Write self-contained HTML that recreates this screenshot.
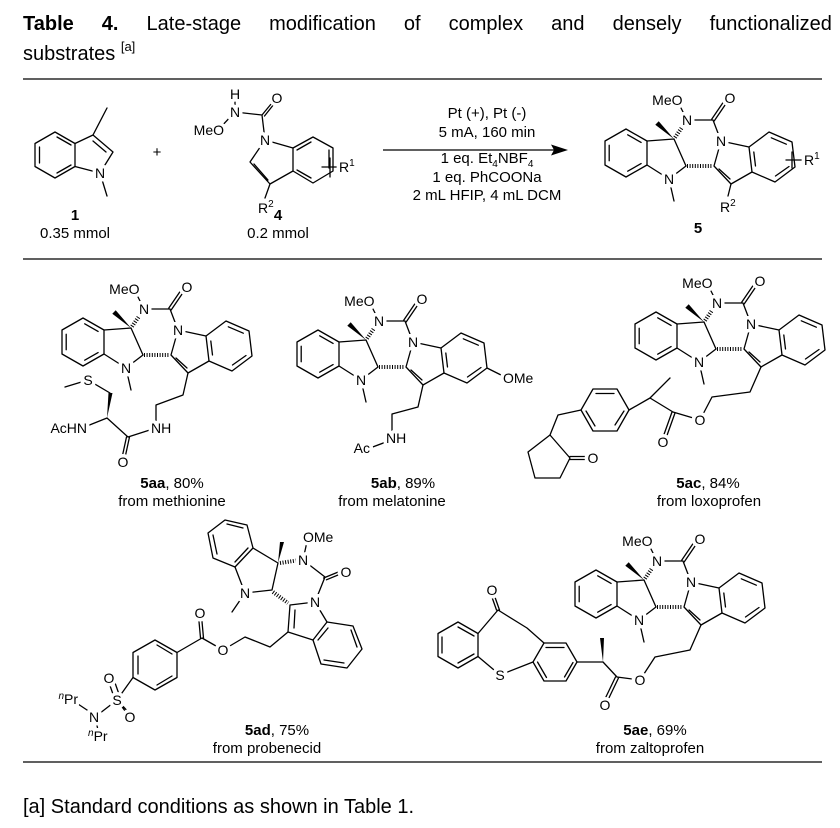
<!DOCTYPE html>
<html><head><meta charset="utf-8"><style>
html,body{margin:0;padding:0;background:#fff}
svg{display:block}
text{font-family:"Liberation Sans",Arial,sans-serif}
.b{stroke:#000;stroke-width:1.3;fill:none;stroke-linecap:round;stroke-linejoin:round}
.a{font-size:14px}
.c{font-size:15px}
.h{stroke:#000;stroke-width:4;stroke-dasharray:1 1.6;fill:none}
</style></head><body>
<svg width="840" height="828" viewBox="0 0 840 828" xmlns="http://www.w3.org/2000/svg" fill="#000">
<defs>
<g id="coreB">
<path class="b" d="M0 0L-27 2M-27 26L-5 40M-5 40L12 27M12 27L0 0M-5 40L0 62M13 -19L3 -39M13 -19L39 -19M39 -19L47 2M47 2L40 27M40 27L57 45M57 45L78 33M75 8L47 2"/>
<polygon class="b" points="-48,-10 -27,2 -27,26 -48,38 -69,26 -69,2"/>
<path class="b" d="M-46.3 -4.2L-32.9 3.4M-32.9 24.6L-46.3 32.2M-64.8 21.7L-64.8 6.3"/>
<polygon class="b" points="75,8 95,-7 118,3 121,28 101,43 78,33"/>
<path class="b" d="M97.3 -1.2L112.3 5.2M115 27.5L101.5 37M81.5 27L79.8 13M45 30L56 40M37.75 -19.84L52.75 -41.84M40.25 -18.16L55.25 -40.16"/>
<polygon points="0,0 -15.3,-17.8 -18.7,-14.2"/>
<path class="h" d="M1 -1.5L11 -16M13 27L38 27"/>
</g>
<g id="coreL">
<text class="a" x="13" y="-14" text-anchor="middle">N</text>
<text class="a" x="8.5" y="-34" text-anchor="end">MeO</text>
<text class="a" x="56" y="-36" text-anchor="middle">O</text>
<text class="a" x="47" y="7" text-anchor="middle">N</text>
<text class="a" x="-5" y="45" text-anchor="middle">N</text>
</g>
<g id="allL">
<use href="#coreL" transform="translate(674,139)"/>
<use href="#coreL" transform="translate(131,328)"/>
<use href="#coreL" transform="translate(366,340)"/>
<use href="#coreL" transform="translate(704,322)"/>
<use href="#coreL" transform="translate(644,580)"/>
<text class="a" x="100" y="178" text-anchor="middle">N</text>
<text class="a" x="265" y="145" text-anchor="middle">N</text>
<text class="a" x="235" y="117" text-anchor="middle">N</text>
<text class="a" x="235" y="99" text-anchor="middle">H</text>
<text class="a" x="277" y="103" text-anchor="middle">O</text>
<text class="a" x="224" y="135" text-anchor="end">MeO</text>
<text class="a" x="258" y="213">R<tspan font-size="10" dy="-6">2</tspan></text>
<text class="a" x="339" y="172">R<tspan font-size="10" dy="-6">1</tspan></text>
<text class="a" x="720" y="212">R<tspan font-size="10" dy="-6">2</tspan></text>
<text class="a" x="804" y="165">R<tspan font-size="10" dy="-6">1</tspan></text>
<text class="a" x="151" y="433">NH</text>
<text class="a" x="123" y="467" text-anchor="middle">O</text>
<text class="a" x="87" y="433" text-anchor="end">AcHN</text>
<text class="a" x="88" y="385" text-anchor="middle">S</text>
<text class="a" x="386" y="443">NH</text>
<text class="a" x="370" y="453" text-anchor="end">Ac</text>
<text class="a" x="503" y="383">OMe</text>
<text class="a" x="700" y="425" text-anchor="middle">O</text>
<text class="a" x="663" y="447" text-anchor="middle">O</text>
<text class="a" x="593" y="463" text-anchor="middle">O</text>
<text class="a" x="303" y="565" text-anchor="middle">N</text>
<text class="a" x="303" y="542">OMe</text>
<text class="a" x="346" y="577" text-anchor="middle">O</text>
<text class="a" x="315" y="607" text-anchor="middle">N</text>
<text class="a" x="245" y="598" text-anchor="middle">N</text>
<text class="a" x="223" y="655" text-anchor="middle">O</text>
<text class="a" x="200" y="618" text-anchor="middle">O</text>
<text class="a" x="117" y="705" text-anchor="middle">S</text>
<text class="a" x="109" y="683" text-anchor="middle">O</text>
<text class="a" x="130" y="722" text-anchor="middle">O</text>
<text class="a" x="94" y="722" text-anchor="middle">N</text>
<text class="a" x="78" y="704" text-anchor="end"><tspan font-size="10" font-style="italic" dy="-5">n</tspan><tspan dy="5">Pr</tspan></text>
<text class="a" x="88" y="741"><tspan font-size="10" font-style="italic" dy="-5">n</tspan><tspan dy="5">Pr</tspan></text>
<text class="a" x="640" y="685" text-anchor="middle">O</text>
<text class="a" x="605" y="710" text-anchor="middle">O</text>
<text class="a" x="492" y="595" text-anchor="middle">O</text>
<text class="a" x="500" y="680" text-anchor="middle">S</text>
</g>
</defs>

<text x="23" y="30" font-size="20" word-spacing="22.5"><tspan font-weight="bold">Table 4.</tspan> Late-stage modification of complex and densely functionalized</text>
<text x="23" y="60" font-size="20">substrates <tspan font-size="13" dy="-9">[a]</tspan></text>
<path d="M23 79H822M23 259H822M23 762H822" stroke="#000" stroke-width="1.3"/>

<polygon class="b" points="55,132 75,143.5 75,166.5 55,178 35,166.5 35,143.5"/>
<path class="b" d="M57 137L71 145M71 165L57 173M39.5 163L39.5 147M75 143.5L93 135L113 152L100 173L75 166.5M93 135L107 108M100 173L107 196M93 141L106 152"/>
<text class="c" x="75" y="220" text-anchor="middle" font-weight="bold">1</text>
<text class="c" x="75" y="238" text-anchor="middle">0.35 mmol</text>
<text x="157" y="157" font-size="15" text-anchor="middle">+</text>

<polygon class="b" points="293,148 313,137 333,148 333,171 313,183 293,171"/>
<path class="b" d="M297 150L311 142M329 150L329 168M311 178L297 170M293 148L265 140L250 162L270 184L293 171M254 164L268 180M265 140L262 115L235 112M235 112L218 130M262 115L276 98M264.5 116L278 99M235 112L235 100M270 184L265 198M330 158L330 177M322 167L338 167"/>
<text class="c" x="278" y="220" text-anchor="middle" font-weight="bold">4</text>
<text class="c" x="278" y="238" text-anchor="middle">0.2 mmol</text>

<line x1="383" y1="150" x2="560" y2="150" stroke="#000" stroke-width="1.3"/>
<polygon points="568,150 551,144.5 554,150 551,155.5"/>
<g class="c" text-anchor="middle">
<text x="487" y="118">Pt (+), Pt (-)</text>
<text x="487" y="137">5 mA, 160 min</text>
<text x="487" y="163">1 eq. Et<tspan font-size="10" dy="4">4</tspan><tspan dy="-4">NBF</tspan><tspan font-size="10" dy="4">4</tspan></text>
<text x="487" y="182">1 eq. PhCOONa</text>
<text x="487" y="200">2 mL HFIP, 4 mL DCM</text>
</g>

<use href="#coreB" transform="translate(674,139)"/>
<path class="b" d="M731 184L728 196M792 152L792 168M786 160L802 160"/>
<text class="c" x="698" y="233" text-anchor="middle" font-weight="bold">5</text>

<use href="#coreB" transform="translate(131,328)"/>
<path class="b" d="M188 373L183 395L156 405L156 428M156 428L128 437M126.5 437L121.5 460M129.5 437L124.5 460M128 437L107 418M107 418L82 428M88 380L65 387M110 393L88 380"/>
<polygon points="107,418 108.5,393 112.5,393"/>
<text class="c" x="172" y="488" text-anchor="middle"><tspan font-weight="bold">5aa</tspan>, 80%</text>
<text class="c" x="172" y="506" text-anchor="middle">from methionine</text>

<use href="#coreB" transform="translate(366,340)"/>
<path class="b" d="M423 385L418 407L392 414L392 436M386 442L370 448M487 368L503 376"/>
<text class="c" x="403" y="488" text-anchor="middle"><tspan font-weight="bold">5ab</tspan>, 89%</text>
<text class="c" x="392" y="506" text-anchor="middle">from melatonine</text>

<use href="#coreB" transform="translate(704,322)"/>
<path class="b" d="M761 367L750 392L712 397L700 420M700 420L673 412M673 412L650 398M650 398L670 378M650 398L629 410M672 412L662 440M675 413L665 441M581 410L558 415L550 435"/>
<polygon class="b" points="629,410 617,431 593,431 581,410 593,389 617,389"/>
<path class="b" d="M596 393.5L614 393.5M624 411L615 425M595 426L586 411"/>
<polygon class="b" points="550,435 570,458 560,478 535,478 528,452"/>
<path class="b" d="M570 456.5L588 456.5M570 459.5L588 459.5"/>
<text class="c" x="708" y="488" text-anchor="middle"><tspan font-weight="bold">5ac</tspan>, 84%</text>
<text class="c" x="709" y="506" text-anchor="middle">from loxoprofen</text>

<polygon class="b" points="253,548 247,525 225,520 208,533 213,558 235,567"/>
<path class="b" d="M243 528L227 524M213 535L217 554M235 562L248 548M278 563L253 548M235 567L245 593L272 590L278 563M245 593L232 612M303 560L308 537M303 560L325 577L315 602M315 602L290 605L288 632L313 640M327 622L315 602M295 610L294 628M323.6 578L341.6 570.6M326.4 579.8L344.4 572.4"/>
<polygon class="b" points="327,622 353,626 362,649 347,668 321,664 313,640"/>
<path class="b" d="M351 630L357 647M344 663L324 660M318 640L328 628"/>
<polygon points="278,563 280,542 284,542"/>
<path class="h" d="M280 563L300 560M273 592L288 603"/>
<path class="b" d="M288 632L270 647L245 637L223 650M223 650L202 638M202 638L177 652.5M200.5 638L198.5 616M203.5 638L201.5 616M133 677.5L117 700M114 697L108 680M120 697L114 680M117 700L128 715M120 703L131 715M117 700L95 717M78 704L93 714M95 717L98 730"/>
<polygon class="b" points="155,640 177,652.5 177,677.5 155,690 133,677.5 133,652.5"/>
<path class="b" d="M157 645L172 654M172 676L157 685M138 674L138 656"/>
<text class="c" x="277" y="735" text-anchor="middle"><tspan font-weight="bold">5ad</tspan>, 75%</text>
<text class="c" x="267" y="753" text-anchor="middle">from probenecid</text>

<use href="#coreB" transform="translate(644,580)"/>
<path class="b" d="M701 625L690 650L655 657L640 680M640 680L617 677M617 677L603 662M603 662L577 662M615.5 677L603.5 702M618.5 678L606.5 703M544 643L527 628L498 610L478 633.5M496.5 610L490.5 593M499.5 610L493.5 593M478 656.5L500 675L533 662"/>
<polygon points="603,662 600,638 604,638"/>
<polygon class="b" points="577,662 566,643 544,643 533,662 544,681 566,681"/>
<path class="b" d="M564 647.5L546 647.5M537.5 662L546.5 677.5M564.5 677L573 662.5"/>
<polygon class="b" points="458,622 478,633.5 478,656.5 458,668 438,656.5 438,633.5"/>
<path class="b" d="M458 627L474 636M474 654L458 663M442 653L442 637"/>
<text class="c" x="655" y="735" text-anchor="middle"><tspan font-weight="bold">5ae</tspan>, 69%</text>
<text class="c" x="650" y="753" text-anchor="middle">from zaltoprofen</text>

<g fill="#fff" stroke="#fff" stroke-width="7" stroke-linejoin="round"><use href="#allL"/></g>
<g fill="#000"><use href="#allL"/></g>

<text x="23" y="813" font-size="20">[a] Standard conditions as shown in Table 1.</text>
</svg>
</body></html>
